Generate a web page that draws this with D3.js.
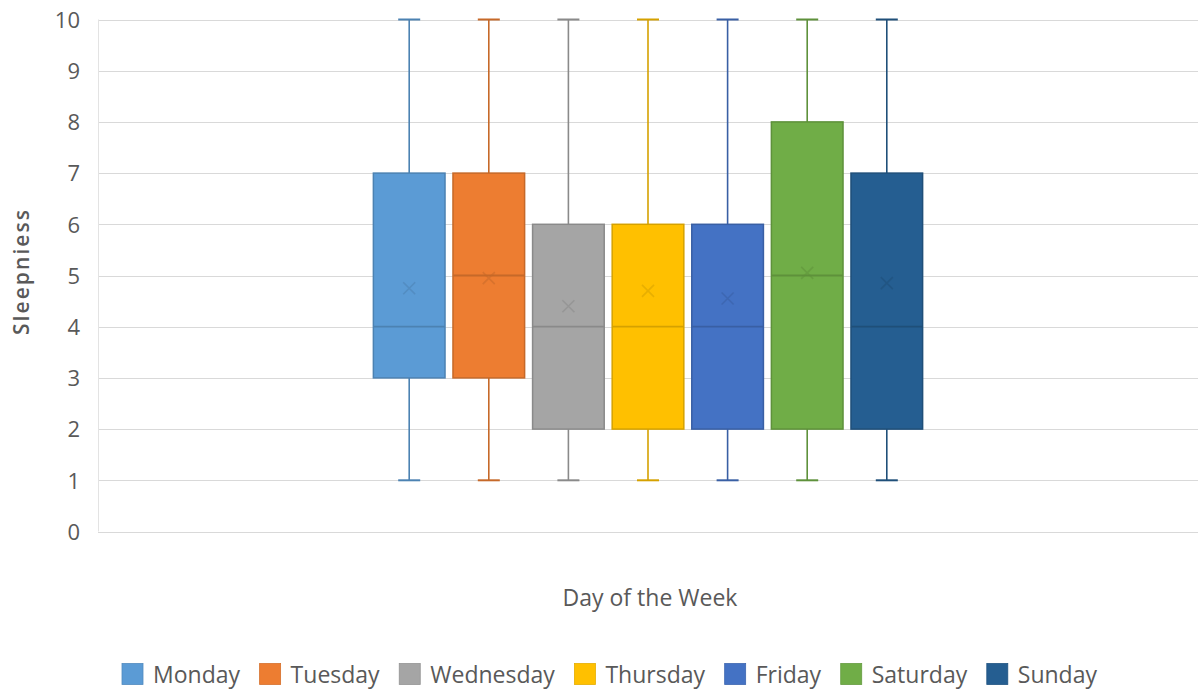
<!DOCTYPE html>
<html>
<head>
<meta charset="utf-8">
<script src="https://cdn.jsdelivr.net/npm/d3@7"></script>
<style>
  html, body { margin: 0; padding: 0; background: #ffffff; }
  svg { display: block; }
  text { font-family: "Open Sans", "Liberation Sans", sans-serif; fill: #595959; }
</style>
</head>
<body>
<svg id="chart" width="1198" height="691"></svg>
<script>
// Sleepiness ratings by day of the week (box-and-whisker summary)
const days    = ["Monday", "Tuesday", "Wednesday", "Thursday", "Friday", "Saturday", "Sunday"];
const mins    = [1, 1, 1, 1, 1, 1, 1];
const q1s     = [3, 3, 2, 2, 2, 2, 2];
const medians = [4, 5, 4, 4, 4, 5, 4];
const q3s     = [7, 7, 6, 6, 6, 8, 7];
const maxs    = [10, 10, 10, 10, 10, 10, 10];
const means   = [4.75, 4.95, 4.4, 4.7, 4.55, 5.05, 4.85];
const colors  = ["#5B9BD5", "#ED7D31", "#A5A5A5", "#FFC000", "#4472C4", "#70AD47", "#255E91"];
const yTicks  = [0, 1, 2, 3, 4, 5, 6, 7, 8, 9, 10];

const svg = d3.select("#chart");
const plot = { left: 98, right: 1198, top: 19.5, bottom: 531.5 };

const y = d3.scaleLinear().domain([0, 10]).range([plot.bottom, plot.top]);

// Series are grouped around the centre of the single category
const centre = (plot.left + plot.right) / 2;
const step = 79.6;
const x = d3.scaleBand()
  .domain(days)
  .range([centre - step * days.length / 2, centre + step * days.length / 2])
  .paddingInner(0.1)
  .paddingOuter(0.05);

// Horizontal gridlines
svg.append("g")
  .selectAll("line")
  .data(yTicks)
  .join("line")
  .attr("x1", plot.left).attr("x2", plot.right)
  .attr("y1", d => Math.round(y(d)) + 0.5).attr("y2", d => Math.round(y(d)) + 0.5)
  .attr("stroke", "#d9d9d9").attr("stroke-width", 1);

// Left edge of the plot area
svg.append("line")
  .attr("x1", plot.left + 0.5).attr("x2", plot.left + 0.5)
  .attr("y1", y(10)).attr("y2", y(0))
  .attr("stroke", "#e3e3e3");

// Y axis tick labels
const yAxis = d3.axisLeft(y).tickValues(yTicks).tickSize(0).tickPadding(0).tickFormat(d3.format("d"));
const gy = svg.append("g").attr("transform", `translate(${plot.left - 18},0)`).call(yAxis);
gy.select(".domain").remove();
gy.selectAll("text")
  .style("font-family", "'Open Sans', sans-serif")
  .style("font-size", "22px")
  .attr("fill", "#595959")
  .attr("dy", "0.35em");

// Axis titles
svg.append("text")
  .attr("transform", `translate(29,272.5) rotate(-90)`)
  .attr("text-anchor", "middle")
  .attr("textLength", 125)
  .attr("lengthAdjust", "spacing")
  .style("font-size", "21px")
  .style("font-weight", "600")
  .text("Sleepniess");

svg.append("text")
  .attr("x", centre + 2).attr("y", 606)
  .attr("text-anchor", "middle")
  .style("font-size", "23px")
  .text("Day of the Week");

// Box plots
const stats = days.map((d, i) => ({
  day: d, min: mins[i], q1: q1s[i], med: medians[i], q3: q3s[i], max: maxs[i],
  mean: means[i], color: colors[i]
}));

const boxes = svg.append("g").selectAll("g").data(stats).join("g");
const capW = 22;

boxes.each(function (s) {
  const g = d3.select(this);
  const bx = x(s.day), bw = x.bandwidth(), cx = bx + bw / 2;
  const line = d3.color(s.color).darker(0.5).formatHex();

  // whiskers
  g.append("line")
    .attr("x1", cx).attr("x2", cx).attr("y1", y(s.max)).attr("y2", y(s.q3))
    .attr("stroke", line).attr("stroke-width", 1.6);
  g.append("line")
    .attr("x1", cx).attr("x2", cx).attr("y1", y(s.q1)).attr("y2", y(s.min))
    .attr("stroke", line).attr("stroke-width", 1.6);
  [s.max, s.min].forEach(v => {
    g.append("line")
      .attr("x1", cx - capW / 2).attr("x2", cx + capW / 2)
      .attr("y1", y(v)).attr("y2", y(v))
      .attr("stroke", line).attr("stroke-width", 2);
  });

  // box
  g.append("rect")
    .attr("x", bx).attr("y", y(s.q3))
    .attr("width", bw).attr("height", y(s.q1) - y(s.q3))
    .attr("fill", s.color)
    .attr("stroke", line).attr("stroke-width", 1.5);

  // median
  g.append("line")
    .attr("x1", bx).attr("x2", bx + bw)
    .attr("y1", y(s.med)).attr("y2", y(s.med))
    .attr("stroke", line).attr("stroke-width", 1.8);

  // mean marker
  const m = 6, my = y(s.mean);
  g.append("path")
    .attr("d", `M${cx - m},${my - m}L${cx + m},${my + m}M${cx - m},${my + m}L${cx + m},${my - m}`)
    .attr("stroke", line).attr("stroke-opacity", 0.55).attr("stroke-width", 1.6)
    .attr("fill", "none");
});

// Legend: items spread evenly over a fixed span
const legend = svg.append("g");
const sw = 21, swGap = 10, legendY = 675;
const legendLeft = 122, legendRight = 1097;
const items = legend.selectAll("g").data(stats).join("g");
const widths = [];
items.each(function (s) {
  const g = d3.select(this);
  g.append("rect")
    .attr("x", 0).attr("y", legendY - sw / 2 - 1)
    .attr("width", sw).attr("height", sw)
    .attr("fill", s.color)
    .attr("stroke", d3.color(s.color).darker(0.3).formatHex()).attr("stroke-width", 0.8);
  const t = g.append("text")
    .attr("x", sw + swGap).attr("y", legendY)
    .attr("dy", "0.35em")
    .style("font-size", "23px")
    .text(s.day);
  widths.push(sw + swGap + t.node().getComputedTextLength());
});
const itemGap = (legendRight - legendLeft - d3.sum(widths)) / (widths.length - 1);
let lx = legendLeft;
items.each(function (s, i) {
  d3.select(this).attr("transform", `translate(${lx},0)`);
  lx += widths[i] + itemGap;
});
</script>
</body>
</html>
